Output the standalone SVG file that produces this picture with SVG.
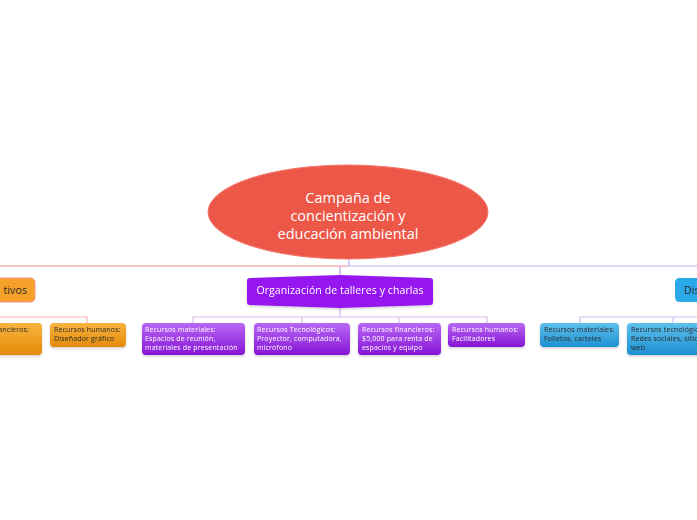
<svg xmlns="http://www.w3.org/2000/svg" width="697" height="520" viewBox="0 0 697 520">
<defs>
<linearGradient id="gP" x1="0" y1="0" x2="0" y2="1"><stop offset="0" stop-color="#B868F4"/><stop offset="1" stop-color="#8614D6"/></linearGradient>
<linearGradient id="gB" x1="0" y1="0" x2="0" y2="1"><stop offset="0" stop-color="#5EC0EC"/><stop offset="1" stop-color="#1E90D2"/></linearGradient>
<linearGradient id="gO" x1="0" y1="0" x2="0" y2="1"><stop offset="0" stop-color="#F8B440"/><stop offset="1" stop-color="#E48A08"/></linearGradient>
<filter id="sh" x="-10%" y="-10%" width="120%" height="140%"><feDropShadow dx="0" dy="1.5" stdDeviation="1" flood-color="#000" flood-opacity="0.18"/></filter>
</defs>
<style>
text{font-family:"Open Sans","DejaVu Sans",sans-serif}
.main{font-size:14.5px;fill:#fff;text-anchor:middle}
.sub{font-size:10.5px;letter-spacing:0.1px}
.small{font-size:7px;letter-spacing:0.15px}
.w{fill:#fff}
.d{fill:#2a2a2a}
.ln{fill:none;stroke-width:1.2}
</style>
<rect width="697" height="520" fill="#fff"/>
<g id="connectors">
<line class="ln" x1="0" y1="266" x2="349" y2="266" stroke="#F28C8C"/>
<line class="ln" x1="349" y1="266" x2="697" y2="266" stroke="#BDB0F8"/>
<line class="ln" x1="349" y1="258" x2="349" y2="266" stroke="#BDB0F8"/>
<line class="ln" x1="340" y1="266" x2="340" y2="277" stroke="#C99AF0"/>
<path class="ln" d="M340,306 V317 M193,323 V317 H487 V323 M302,317 V323 M399,317 V323" stroke="#DDB9F2"/>
<path class="ln" d="M0,317 H87 V323" stroke="#F6B2B2"/>
<path class="ln" d="M580,323 V317 H697 M673,317 V323" stroke="#C8C0F2"/>
</g>
<g id="root">
<ellipse cx="348" cy="212" rx="140" ry="47" fill="#EC5748" stroke="#F07A6E" stroke-width="1"/>
<text class="main" x="348" y="203">Campaña de</text>
<text class="main" x="348" y="221">concientización y</text>
<text class="main" x="348" y="239">educación ambiental</text>
</g>
<g id="orange-node">
<path d="M-20,278 H30 Q35,278 35,283 V297 Q35,302 30,302 L-20,302 Z" fill="#F5A12A" stroke="#F49494" stroke-width="1"/>
<text class="sub d" x="27" y="294" text-anchor="end">tivos</text>
</g>
<g id="orange-child-1" filter="url(#sh)">
<rect x="-40" y="323" width="82" height="32" rx="4" fill="url(#gO)"/>
<text class="small d" x="29" y="332" text-anchor="end">Recursos financieros:</text>
</g>
<g id="orange-child-2" filter="url(#sh)">
<rect x="50" y="323" width="76" height="24" rx="4" fill="url(#gO)"/>
<text class="small d" x="54" y="332">Recursos humanos:</text>
<text class="small d" x="54" y="341">Diseñador gráfico</text>
</g>
<g id="purple-node" filter="url(#sh)">
<path d="M247,281 Q247,278 250,278 L340,275 L430,278 Q433,278 433,281 V302 Q433,305 430,305 L340,308 L250,305 Q247,305 247,302 Z" fill="#9616F0"/>
<text class="sub w" x="340" y="294" text-anchor="middle">Organización de talleres y charlas</text>
</g>
<g id="purple-child-1" filter="url(#sh)">
<rect x="142" y="323" width="103" height="32" rx="4" fill="url(#gP)"/>
<text class="small w" x="145" y="332">Recursos materiales:</text>
<text class="small w" x="145" y="341">Espacios de reunión,</text>
<text class="small w" x="145" y="350">materiales de presentación</text>
</g>
<g id="purple-child-2" filter="url(#sh)">
<rect x="254" y="323" width="96" height="32" rx="4" fill="url(#gP)"/>
<text class="small w" x="257" y="332">Recursos Tecnológicos:</text>
<text class="small w" x="257" y="341">Proyector, computadora,</text>
<text class="small w" x="257" y="350">micrófono</text>
</g>
<g id="purple-child-3" filter="url(#sh)">
<rect x="358" y="323" width="83" height="32" rx="4" fill="url(#gP)"/>
<text class="small w" x="362" y="332">Recursos financieros:</text>
<text class="small w" x="362" y="341">$5,000 para renta de</text>
<text class="small w" x="362" y="350">espacios y equipo</text>
</g>
<g id="purple-child-4" filter="url(#sh)">
<rect x="448" y="323" width="77" height="24" rx="4" fill="url(#gP)"/>
<text class="small w" x="452" y="332">Recursos humanos:</text>
<text class="small w" x="452" y="341">Facilitadores</text>
</g>
<g id="blue-node">
<path d="M680,278 H720 V302 H680 Q675,302 675,297 V283 Q675,278 680,278 Z" fill="#2AA9EA"/>
<text class="sub d" x="684" y="294">Diseño</text>
</g>
<g id="blue-child-1" filter="url(#sh)">
<rect x="540" y="323" width="79" height="24" rx="4" fill="url(#gB)"/>
<text class="small d" x="544" y="332">Recursos materiales:</text>
<text class="small d" x="544" y="341">Folletos, carteles</text>
</g>
<g id="blue-child-2" filter="url(#sh)">
<rect x="627" y="323" width="110" height="32" rx="4" fill="url(#gB)"/>
<text class="small d" x="631" y="332">Recursos tecnológicos:</text>
<text class="small d" x="631" y="341">Redes sociales, sitio</text>
<text class="small d" x="631" y="350">web</text>
</g>
</svg>
